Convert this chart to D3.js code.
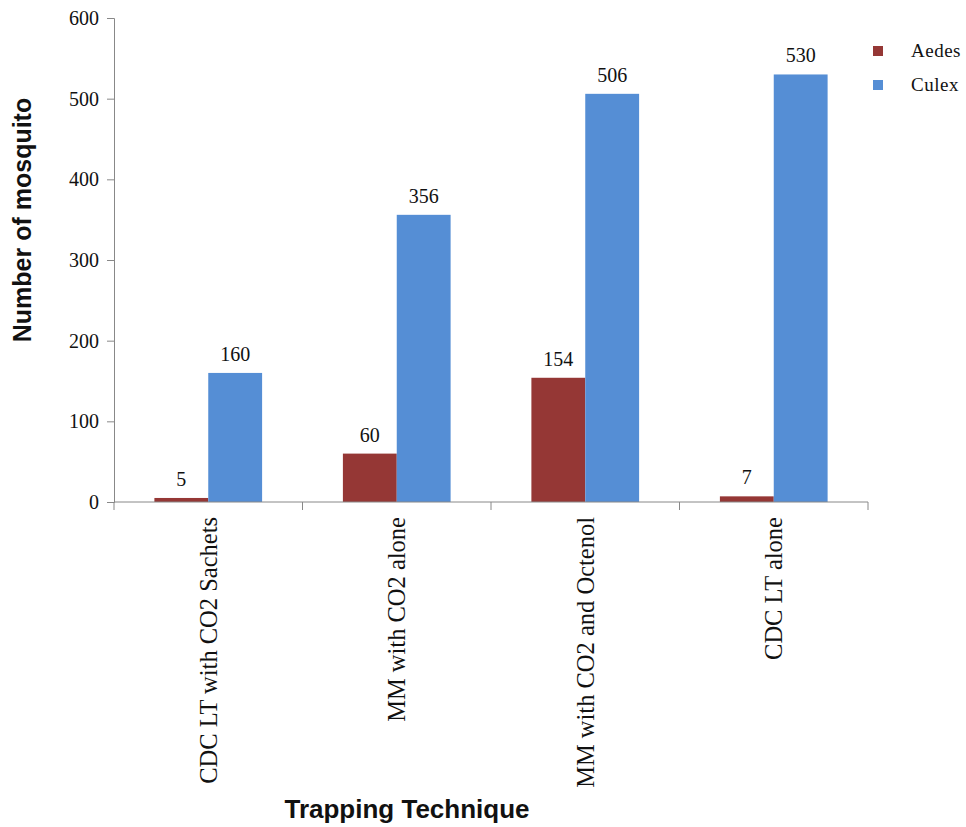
<!DOCTYPE html>
<html><head><meta charset="utf-8">
<script src="https://cdn.jsdelivr.net/npm/d3@7"></script>
<style>body{margin:0;background:#fff}svg{display:block}</style>
</head><body>
<script>
const categories = ["CDC LT with CO2 Sachets","MM with CO2 alone","MM with CO2 and Octenol","CDC LT alone"];
const seriesNames = ["Aedes","Culex"];
const aedes = [5,60,154,7];
const culex = [160,356,506,530];
const yTicks = [0,100,200,300,400,500,600];
const colors = ["#953735","#558ED5"];

(function(){
const W=966,H=827;
const svg=d3.select("body").append("svg").attr("width",W).attr("height",H);
const mLeft=114,mRight=868,mTop=18,mBottom=502;
const x=d3.scaleBand().domain(categories).range([mLeft,mRight]).paddingInner(0).paddingOuter(0);
const inner=d3.scaleBand().domain(seriesNames).range([0,x.bandwidth()]).paddingInner(0).paddingOuter(0.75);
const y=d3.scaleLinear().domain([0,600]).range([mBottom,mTop]);
const data=categories.map((c,i)=>({c,vals:[aedes[i],culex[i]]}));

// y axis
const ya=svg.append("g").attr("transform",`translate(${mLeft},0)`).call(d3.axisLeft(y).tickValues(yTicks).tickSize(7).tickPadding(8));
ya.select(".domain").attr("stroke","#888");
ya.selectAll(".tick line").attr("stroke","#888");
ya.selectAll(".tick text").attr("font-family","'Liberation Serif','Times New Roman',serif").attr("font-size",20).attr("fill","#111");

// bars
const g=svg.append("g");
data.forEach(d=>{
  seriesNames.forEach((s,j)=>{
    const bx=x(d.c)+inner(s), v=d.vals[j];
    g.append("rect").attr("x",bx).attr("y",y(v)).attr("width",inner.bandwidth()).attr("height",y(0)-y(v)).attr("fill",colors[j]);
    g.append("text").attr("x",bx+inner.bandwidth()/2).attr("y",y(v)-12).attr("text-anchor","middle")
      .attr("font-family","'Liberation Serif','Times New Roman',serif").attr("font-size",20).attr("fill","#111").text(v);
  });
});

// x axis
const xa=svg.append("g").attr("transform",`translate(0,${mBottom})`);
xa.append("line").attr("x1",mLeft).attr("x2",mRight).attr("stroke","#888");
const bounds=categories.map(c=>x(c)).concat([x(categories[categories.length-1])+x.bandwidth()]);
bounds.forEach(b=>xa.append("line").attr("x1",b).attr("x2",b).attr("y1",0).attr("y2",8).attr("stroke","#888"));
categories.forEach(c=>{
  const cx=x(c)+x.bandwidth()/2;
  xa.append("text").attr("transform",`translate(${cx},15) rotate(-90)`).attr("text-anchor","end").attr("dy","0.35em")
    .attr("font-family","'Liberation Serif','Times New Roman',serif").attr("font-size",24.5).attr("fill","#111").text(c);
});

// titles
svg.append("text").attr("x",407).attr("y",818).attr("text-anchor","middle")
  .attr("font-family","'Liberation Sans',Arial,sans-serif").attr("font-weight","bold").attr("font-size",26).attr("fill","#111").text("Trapping Technique");
svg.append("text").attr("transform","translate(31,220) rotate(-90)").attr("text-anchor","middle")
  .attr("font-family","'Liberation Sans',Arial,sans-serif").attr("font-weight","bold").attr("font-size",25).attr("fill","#111").text("Number of mosquito");

// legend
seriesNames.forEach((s,i)=>{
  const ly=51+i*34;
  svg.append("rect").attr("x",873).attr("y",ly-5).attr("width",10).attr("height",10).attr("fill",colors[i]);
  svg.append("text").attr("x",911).attr("y",ly+6).attr("font-family","'Liberation Serif','Times New Roman',serif")
    .attr("font-size",19).attr("letter-spacing","0.5px").attr("fill","#111").text(s);
});
})();
</script>
</body></html>
